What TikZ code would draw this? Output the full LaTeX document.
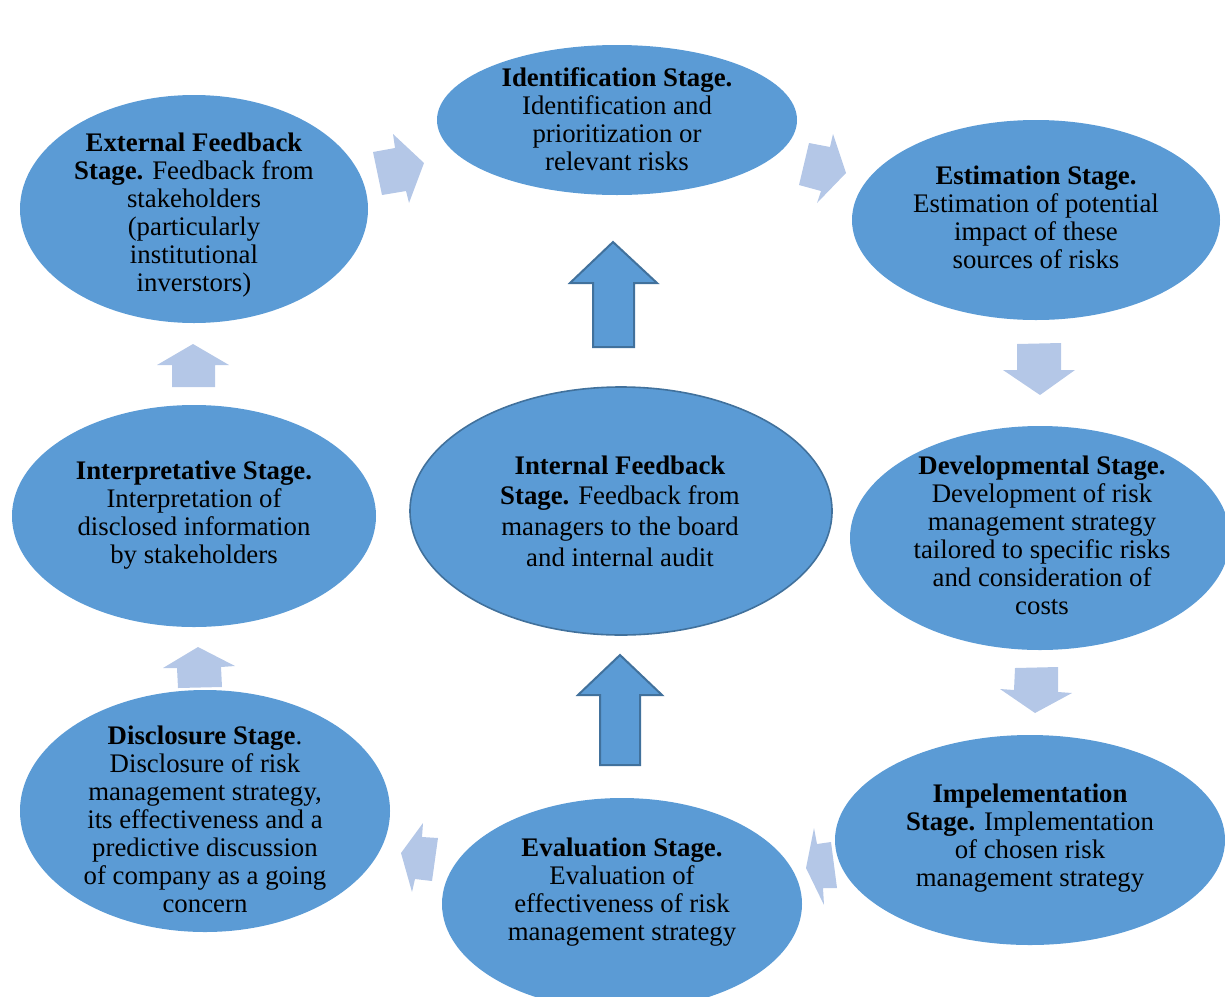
\documentclass[tikz,border=0pt]{standalone}
\usepackage{fontspec}
\setmainfont{Liberation Serif}
\usetikzlibrary{shapes.geometric}
\definecolor{stagefill}{HTML}{5B9BD5}
\definecolor{stageedge}{HTML}{41719C}
\definecolor{flowfill}{HTML}{B4C7E7}
\tikzset{
  stage/.style={ellipse, fill=stagefill, draw=none, inner sep=0pt},
  stagetext/.style={align=center, inner sep=0pt, font=\fontsize{13.4}{14}\selectfont, text=black},
  flow/.style={fill=flowfill, draw=none},
  bigup/.style={fill=stagefill, draw=stageedge, line width=1pt, line join=miter},
}
\begin{document}
\begin{tikzpicture}[x=0.5pt, y=-0.5pt]
\useasboundingbox (0,0) rectangle (1225,996);
\clip (0,0) rectangle (1225,996);

% stage ellipses (minimum width/height in pt = radius in px)
\node[stage, minimum width=180pt, minimum height=75pt]  (ident)  at (617,120) {};
\node[stage, minimum width=174pt, minimum height=114pt] (ext)    at (194,209) {};
\node[stage, minimum width=184pt, minimum height=100pt] (estim)  at (1036,220) {};
\node[stage, minimum width=182pt, minimum height=111pt] (interp) at (194,516) {};
\node[stage, draw=stageedge, line width=0.8pt, minimum width=211pt, minimum height=124pt] (intfb) at (621,511) {};
\node[stage, minimum width=190pt, minimum height=112pt] (devel)  at (1040,538) {};
\node[stage, minimum width=185pt, minimum height=121pt] (disc)   at (205,811) {};
\node[stage, minimum width=180pt, minimum height=106pt] (eval)   at (622,904) {};
\node[stage, minimum width=195pt, minimum height=105pt] (impl)   at (1030,840) {};

% stage texts
\node[stagetext] (identT) at (617,119) {\textbf{Identification Stage.}\\Identification and\\prioritization or\\relevant risks};
\node[stagetext] (extT) at (194,215) {\textbf{External Feedback}\\\textbf{Stage.} Feedback from\\stakeholders\\(particularly\\institutional\\inverstors)};
\node[stagetext] (estimT) at (1036,217) {\textbf{Estimation Stage.}\\Estimation of potential\\impact of these\\sources of risks};
\node[stagetext] (interpT) at (194,515) {\textbf{Interpretative Stage.}\\Interpretation of\\disclosed information\\by stakeholders};
\node[stagetext, font=\fontsize{13.4}{15.3}\selectfont] (intfbT) at (620,511) {\textbf{Internal Feedback}\\\textbf{Stage.} Feedback from\\managers to the board\\and internal audit};
\node[stagetext] (develT) at (1042,535) {\textbf{Developmental Stage.}\\Development of risk\\management strategy\\tailored to specific risks\\and consideration of\\costs};
\node[stagetext] (discT) at (205,819) {\textbf{Disclosure Stage}.\\Disclosure of risk\\management strategy,\\its effectiveness and a\\predictive discussion\\of company as a going\\concern};
\node[stagetext] (evalT) at (622,892) {\textbf{Evaluation Stage.}\\Evaluation of\\effectiveness of risk\\management strategy};
\node[stagetext] (implT) at (1030,838) {\textbf{Impelementation}\\\textbf{Stage.} Implementation\\of chosen risk\\management strategy};

% light block arrows around the cycle
\fill[flow] (373,152) -- (395,148) -- (393,134) -- (424,163) -- (409,203) -- (406,191) -- (382,195) -- cycle;
\fill[flow] (809,143) -- (830,147) -- (833,134) -- (846,173) -- (817,203) -- (821,191) -- (799,185) -- cycle;
\fill[flow] (1017,344) -- (1061,343) -- (1061,370) -- (1075,370) -- (1040,395) -- (1003,370) -- (1017,370) -- cycle;
\fill[flow] (1015,668) -- (1058,667) -- (1058,692) -- (1072,693) -- (1035,713) -- (1000,689) -- (1014,690) -- cycle;
\fill[flow] (831,842) -- (817,844) -- (814,828) -- (806,868) -- (824,905) -- (823,888) -- (837,888) -- cycle;
\fill[flow] (422,837) -- (423,823) -- (401,853) -- (412,892) -- (415,879) -- (432,881) -- (438,838) -- cycle;
\fill[flow] (198,647) -- (235,666) -- (221,667) -- (222,687) -- (178,688) -- (177,668) -- (163,668) -- cycle;
\fill[flow] (193,344) -- (229,365) -- (215,365) -- (215,387) -- (172,387) -- (172,365) -- (157,365) -- cycle;

% large arrows from the internal feedback stage
\draw[bigup] (613,242) -- (657,283) -- (634,283) -- (634,347) -- (593,347) -- (593,283) -- (570,283) -- cycle;
\draw[bigup] (620,655) -- (662,695) -- (640,695) -- (640,765) -- (600,765) -- (600,695) -- (578,695) -- cycle;
\end{tikzpicture}
\end{document}
